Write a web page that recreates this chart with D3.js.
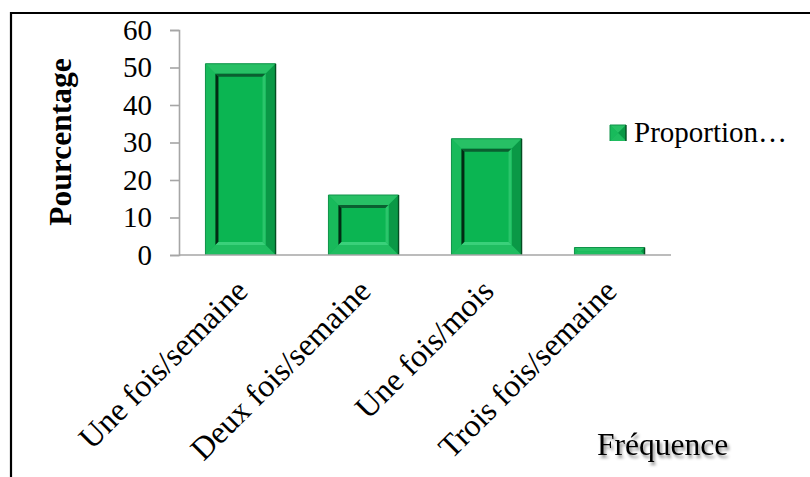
<!DOCTYPE html>
<html>
<head>
<meta charset="utf-8">
<script src="https://cdn.jsdelivr.net/npm/d3@7"></script>
<style>
  html, body { margin: 0; padding: 0; background: #fff; }
  svg { display: block; }
  text { font-family: "Liberation Serif", "Times New Roman", serif; fill: #000; }
</style>
</head>
<body>
<svg id="chart" width="810" height="477"></svg>
<script>
// Survey data: share of respondents (%) per frequency
const categories = ["Une fois/semaine", "Deux fois/semaine", "Une fois/mois", "Trois fois/semaine"];
const values = [51, 16, 31, 2];
const yTicks = [0, 10, 20, 30, 40, 50, 60];
const seriesName = "Proportion…";
const yTitle = "Pourcentage";
const xTitle = "Fréquence";

const svg = d3.select("#chart");

const defs = svg.append("defs");
const shadow = defs.append("filter").attr("id", "txtShadow")
  .attr("x", "-10%").attr("y", "-20%").attr("width", "130%").attr("height", "160%");
shadow.append("feDropShadow").attr("dx", 2).attr("dy", 3)
  .attr("stdDeviation", 1.6).attr("flood-color", "#000").attr("flood-opacity", 0.45);

// frame
svg.append("path")
  .attr("d", "M11,477 V13 H810")
  .attr("fill", "none").attr("stroke", "#000").attr("stroke-width", 2.2);

const x = d3.scaleBand().domain(categories).range([179, 671])
  .paddingInner(0.43).paddingOuter(0.215);
const y = d3.scaleLinear().domain([0, 60]).range([255, 30]);

// y axis
const yAxis = svg.append("g").attr("transform", "translate(179,0)")
  .call(d3.axisLeft(y).tickValues(yTicks).tickSize(9).tickPadding(18).tickFormat(d3.format("d")));
yAxis.select(".domain").attr("stroke", "#a6a6a6").attr("stroke-width", 1.6);
yAxis.selectAll(".tick line").attr("stroke", "#a6a6a6").attr("stroke-width", 1.6);
yAxis.selectAll(".tick text")
  .style("font-family", "'Liberation Serif', serif").style("font-size", "29px").attr("fill", "#000");

// bevelled bar
function bevelBar(g, bx, by, bw, bh) {
  const b = Math.min(10, bw / 2, bh / 2);
  const s = Math.min(3, b / 2);
  const poly = (pts, fill) => g.append("polygon")
    .attr("points", pts.map(p => p.join(",")).join(" ")).attr("fill", fill);
  g.append("rect").attr("x", bx).attr("y", by).attr("width", bw).attr("height", bh)
    .attr("fill", "#0bb552");
  poly([[bx, by], [bx + bw, by], [bx + bw - b, by + b], [bx + b, by + b]], "#27c065");
  poly([[bx, by], [bx + b, by + b], [bx + b, by + bh - b], [bx, by + bh]], "#18ba5b");
  poly([[bx + bw, by], [bx + bw, by + bh], [bx + bw - b, by + bh - b], [bx + bw - b, by + b]], "#0a9846");
  poly([[bx, by + bh], [bx + bw, by + bh], [bx + bw - b, by + bh - b], [bx + b, by + bh - b]], "#1fbd60");
  const ix = bx + b, iy = by + b, iw = bw - 2 * b, ih = bh - 2 * b;
  if (iw > 0 && ih > 0) {
    g.append("rect").attr("x", ix).attr("y", iy).attr("width", iw).attr("height", ih).attr("fill", "#0bb552");
    poly([[ix, iy], [ix + iw, iy], [ix + iw - s, iy + s], [ix + s, iy + s]], "#0a5f30");
    poly([[ix, iy], [ix + s, iy + s], [ix + s, iy + ih - s], [ix, iy + ih]], "#022b14");
    poly([[ix + iw, iy], [ix + iw, iy + ih], [ix + iw - s, iy + ih - s], [ix + iw - s, iy + s]], "#2bc56b");
    poly([[ix, iy + ih], [ix + iw, iy + ih], [ix + iw - s, iy + ih - s], [ix + s, iy + ih - s]], "#3ad07a");
  }
  // outline: light on top/left, dark on right
  g.append("path").attr("d", `M${bx},${by + bh} V${by} H${bx + bw}`)
    .attr("fill", "none").attr("stroke", "#10934a").attr("stroke-width", 1);
  g.append("path").attr("d", `M${bx + bw},${by} V${by + bh}`)
    .attr("fill", "none").attr("stroke", "#044d22").attr("stroke-width", 1.4);
}

const bars = svg.append("g");
categories.forEach((c, i) => {
  const g = bars.append("g");
  bevelBar(g, x(c), y(values[i]), x.bandwidth(), y(0) - y(values[i]));
});

// x axis line
svg.append("line").attr("x1", 179).attr("x2", 671).attr("y1", y(0)).attr("y2", y(0))
  .attr("stroke", "#a6a6a6").attr("stroke-width", 1.6);

// category labels
svg.append("g").selectAll("text").data(categories).join("text")
  .attr("transform", d => `translate(${x(d) + x.bandwidth() / 2 + 9},${y(0) + 38}) rotate(-45)`)
  .attr("text-anchor", "end")
  .style("font-size", "32px")
  .text(d => d);

// y title
svg.append("text")
  .attr("transform", "translate(71,142) rotate(-90)")
  .attr("text-anchor", "middle")
  .style("font-size", "31.5px").style("font-weight", "bold")
  .text(yTitle);

// x title
svg.append("text")
  .attr("x", 597).attr("y", 455)
  .style("font-size", "31.5px")
  .attr("filter", "url(#txtShadow)")
  .text(xTitle);

// legend
const lg = svg.append("g");
bevelBar(lg, 610, 125, 16, 16);
lg.append("text").attr("x", 634).attr("y", 142).style("font-size", "29px").text(seriesName);
</script>
</body>
</html>
